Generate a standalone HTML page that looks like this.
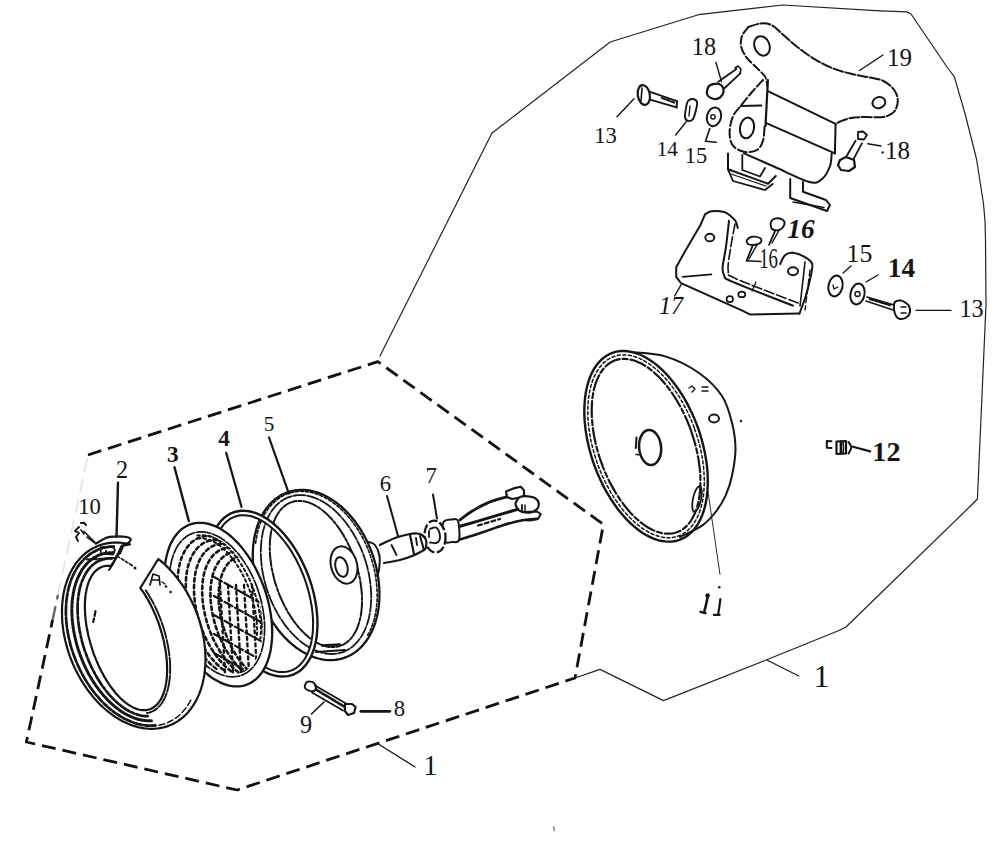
<!DOCTYPE html>
<html><head><meta charset="utf-8"><style>
html,body{margin:0;padding:0;background:#fff;overflow:hidden;width:1000px;height:846px;}
svg{display:block;font-family:"Liberation Serif",serif;}
</style></head><body>
<svg width="1000" height="846" viewBox="0 0 1000 846">
<rect width="1000" height="846" fill="#fff"/>
<path d="M575 678 L600 669.4 L663.5 700.6 L765.5 660.3 L839 630.5 L846 627 L972 504.5 L977.4 499 L986 305 L985.5 240 L985 221 L983.5 204 L976.5 159 L965 113.5 L954.3 76.6 L947 67 L911 14 L907 11.9 L880 10.8 L782.4 5 L698.4 14.7 L610.2 42 L492 133 L380 356" fill="none" stroke="#222" stroke-width="1.2" stroke-linecap="round" stroke-linejoin="round"/>
<path d="M88 455 L377.8 361.6 L603.4 524.4 L575 678 L237 790 L26.4 742 L52.6 620" fill="none" stroke="#111" stroke-width="2.8" stroke-linecap="butt" stroke-linejoin="round" stroke-dasharray="14 7"/>
<path d="M52.6 620 L57.9 595" fill="none" stroke="#666" stroke-width="2.4" stroke-linecap="butt" stroke-linejoin="round" stroke-dasharray="14 7"/>
<path d="M57.9 595 L88 455" fill="none" stroke="#dedede" stroke-width="1.4" stroke-linecap="butt" stroke-linejoin="round" stroke-dasharray="14 7"/>
<path d="M630 352 C636 352.8 654.5 353.1 666 356.6 C677.5 360.1 689.7 366.4 699 373 C708.3 379.6 716.5 387.7 722 396 C727.5 404.3 729.8 414 732 422.8 C734.2 431.6 735.5 440.2 735.5 449 C735.5 457.8 733.6 468 732 475.8 C730.4 483.6 728.3 489.6 725.6 495.6 C722.9 501.6 719.5 507 715.6 512 C711.7 517 708.3 521.2 702.4 525.4 C696.5 529.6 683.7 535.1 680 537" fill="none" stroke="#151515" stroke-width="2.0" stroke-linecap="round" stroke-linejoin="round"/>
<path d="M697.9 427.7 L699.6 432.6 L701.1 437.6 L702.5 442.6 L703.7 447.6 L704.8 452.6 L705.7 457.5 L706.5 462.5 L707.1 467.4 L707.5 472.2 L707.7 477 L707.8 481.6 L707.7 486.2 L707.4 490.7 L707 495.1 L706.4 499.3 L705.7 503.4 L704.7 507.3 L703.7 511 L702.4 514.6 L701 518 L699.5 521.2 L697.8 524.2 L695.9 526.9 L694 529.5 L691.8 531.8 L689.6 533.9 L687.3 535.8 L684.8 537.4 L682.2 538.7 L679.6 539.8 L676.8 540.7 L674 541.2 L671 541.6 L668.1 541.6 L665 541.4 L661.9 541 L658.8 540.3 L655.6 539.3 L652.4 538.1 L649.2 536.6 L645.9 534.9 L642.7 532.9 L639.5 530.7 L636.3 528.2 L633.1 525.6 L629.9 522.7 L626.8 519.6 L623.8 516.3 L620.8 512.8 L617.9 509.2 L615.1 505.3 L612.3 501.3 L609.7 497.2 L607.1 492.9 L604.6 488.5 L602.3 483.9 L600.1 479.3 L598 474.6 L596 469.8 L594.2 464.9 L592.5 460 L591 455 L589.6 450 L588.4 445 L587.3 440.1 L586.4 435.1 L585.6 430.1 L585.1 425.2 L584.6 420.4 L584.4 415.6 L584.3 411 L584.4 406.4 L584.7 401.9 L585.1 397.5 L585.7 393.3 L586.5 389.2 L587.4 385.3 L588.5 381.6 L589.7 378 L591.1 374.6 L592.7 371.4 L594.3 368.4 L596.2 365.7 L598.2 363.1 L600.3 360.8 L602.5 358.7 L604.8 356.9 L607.3 355.2 L609.9 353.9 L612.5 352.8 L615.3 351.9 L618.1 351.4 L621.1 351 L624.1 351 L627.1 351.2 L630.2 351.6 L633.4 352.3 L636.5 353.3 L639.7 354.5 L643 356 L646.2 357.8 L649.4 359.7 L652.6 361.9 L655.9 364.4 L659 367 L662.2 369.9 L665.3 373 L668.3 376.3 L671.3 379.8 L674.2 383.5 L677 387.3 L679.8 391.3 L682.5 395.4 L685 399.7 L687.5 404.1 L689.8 408.7 L692 413.3 L694.1 418 L696.1 422.9 L697.9 427.7" fill="none" stroke="#151515" stroke-width="2.4" stroke-linecap="round" stroke-linejoin="round"/>
<path d="M694.6 428.9 L696.2 433.6 L697.7 438.4 L699.1 443.2 L700.2 447.9 L701.3 452.7 L702.2 457.5 L702.9 462.2 L703.5 466.9 L703.9 471.5 L704.2 476.1 L704.3 480.6 L704.3 485 L704 489.3 L703.7 493.4 L703.1 497.5 L702.5 501.4 L701.6 505.1 L700.6 508.7 L699.5 512.1 L698.2 515.3 L696.8 518.4 L695.2 521.2 L693.5 523.9 L691.7 526.3 L689.7 528.5 L687.6 530.5 L685.4 532.2 L683.1 533.7 L680.7 535 L678.2 536 L675.6 536.8 L673 537.4 L670.2 537.7 L667.4 537.7 L664.6 537.5 L661.6 537 L658.7 536.3 L655.7 535.4 L652.7 534.2 L649.6 532.7 L646.6 531 L643.5 529.1 L640.5 527 L637.5 524.6 L634.5 522.1 L631.5 519.3 L628.6 516.3 L625.7 513.1 L622.8 509.8 L620.1 506.2 L617.4 502.6 L614.8 498.7 L612.2 494.7 L609.8 490.6 L607.5 486.3 L605.2 482 L603.1 477.5 L601.1 473 L599.2 468.4 L597.5 463.7 L595.9 459 L594.4 454.2 L593.1 449.5 L591.9 444.7 L590.8 439.9 L589.9 435.1 L589.2 430.4 L588.6 425.7 L588.2 421.1 L587.9 416.5 L587.8 412 L587.9 407.6 L588.1 403.4 L588.4 399.2 L589 395.2 L589.7 391.3 L590.5 387.5 L591.5 383.9 L592.6 380.5 L593.9 377.3 L595.4 374.2 L596.9 371.4 L598.6 368.8 L600.5 366.3 L602.4 364.1 L604.5 362.1 L606.7 360.4 L609 358.9 L611.4 357.6 L613.9 356.6 L616.5 355.8 L619.1 355.2 L621.9 354.9 L624.7 354.9 L627.6 355.1 L630.5 355.6 L633.4 356.3 L636.4 357.2 L639.4 358.4 L642.5 359.9 L645.5 361.6 L648.6 363.5 L651.6 365.6 L654.6 368 L657.7 370.5 L660.6 373.3 L663.6 376.3 L666.4 379.5 L669.3 382.8 L672 386.4 L674.7 390.1 L677.3 393.9 L679.9 397.9 L682.3 402 L684.6 406.3 L686.9 410.6 L689 415.1 L691 419.6 L692.9 424.2 L694.6 428.9" fill="none" stroke="#151515" stroke-width="1.5" stroke-linecap="round" stroke-linejoin="round" stroke-dasharray="3 2.5"/>
<path d="M690.9 430.2 L692.4 434.8 L693.8 439.3 L695.1 443.9 L696.3 448.5 L697.3 453 L698.2 457.6 L698.9 462.1 L699.5 466.6 L700 471 L700.3 475.4 L700.4 479.7 L700.4 483.9 L700.3 487.9 L700 491.9 L699.5 495.7 L698.9 499.5 L698.2 503 L697.3 506.4 L696.3 509.7 L695.1 512.7 L693.8 515.6 L692.4 518.3 L690.9 520.8 L689.2 523.1 L687.4 525.2 L685.5 527.1 L683.5 528.7 L681.4 530.1 L679.2 531.3 L676.9 532.3 L674.5 533 L672 533.5 L669.5 533.7 L666.9 533.7 L664.2 533.5 L661.5 533 L658.8 532.3 L656 531.4 L653.2 530.2 L650.3 528.8 L647.5 527.2 L644.7 525.3 L641.8 523.2 L639 520.9 L636.2 518.5 L633.4 515.8 L630.6 512.9 L627.9 509.8 L625.3 506.6 L622.7 503.2 L620.1 499.6 L617.7 495.9 L615.3 492.1 L613 488.1 L610.8 484.1 L608.6 479.9 L606.6 475.6 L604.7 471.3 L602.9 466.8 L601.3 462.4 L599.7 457.8 L598.3 453.3 L597 448.7 L595.8 444.1 L594.8 439.6 L593.9 435 L593.2 430.5 L592.6 426 L592.2 421.6 L591.9 417.2 L591.7 412.9 L591.7 408.8 L591.9 404.7 L592.1 400.7 L592.6 396.9 L593.2 393.2 L593.9 389.6 L594.8 386.2 L595.8 382.9 L597 379.9 L598.3 377 L599.7 374.3 L601.2 371.8 L602.9 369.5 L604.7 367.4 L606.6 365.5 L608.6 363.9 L610.7 362.5 L612.9 361.3 L615.2 360.3 L617.6 359.6 L620.1 359.1 L622.6 358.9 L625.2 358.9 L627.9 359.1 L630.6 359.6 L633.3 360.3 L636.1 361.2 L638.9 362.4 L641.8 363.8 L644.6 365.5 L647.5 367.3 L650.3 369.4 L653.1 371.7 L655.9 374.2 L658.7 376.8 L661.5 379.7 L664.2 382.8 L666.8 386 L669.4 389.4 L672 393 L674.4 396.7 L676.8 400.5 L679.1 404.5 L681.4 408.5 L683.5 412.7 L685.5 417 L687.4 421.3 L689.2 425.8 L690.9 430.2" fill="none" stroke="#151515" stroke-width="2.2" stroke-linecap="round" stroke-linejoin="round" stroke-dasharray="16 3 5 3"/>
<ellipse cx="650.1" cy="447.5" rx="11" ry="17.5" transform="rotate(-5 650.1 447.5)" fill="none" stroke="#151515" stroke-width="2.5"/>
<path d="M636.5 437.5 L635.8 448" fill="none" stroke="#151515" stroke-width="2.0" stroke-linecap="round" stroke-linejoin="round"/>
<path d="M636 454.5 L639 454.7" fill="none" stroke="#151515" stroke-width="1.6" stroke-linecap="round" stroke-linejoin="round"/>
<ellipse cx="714" cy="418.5" rx="5" ry="4" fill="none" stroke="#151515" stroke-width="2"/>
<ellipse cx="697" cy="499" rx="4" ry="13" transform="rotate(12 697 499)" fill="none" stroke="#151515" stroke-width="1.8"/>
<path d="M689 388 L692 386 L695 389 L692 392" fill="none" stroke="#151515" stroke-width="1.4" stroke-linecap="round" stroke-linejoin="round"/>
<path d="M702 387 L708 387" fill="none" stroke="#151515" stroke-width="1.4" stroke-linecap="round" stroke-linejoin="round"/>
<path d="M702 391 L708 391" fill="none" stroke="#151515" stroke-width="1.4" stroke-linecap="round" stroke-linejoin="round"/>
<circle cx="741" cy="421" r="1.2" fill="#151515"/>
<path d="M831.5 441.2 L826.8 441 L826.8 447.8 L831.5 448" fill="none" stroke="#151515" stroke-width="2.0" stroke-linecap="round" stroke-linejoin="round"/>
<path d="M836.5 441.5 L846 441 L846 453.5 L836.5 454Z" fill="none" stroke="#151515" stroke-width="2.2" stroke-linecap="round" stroke-linejoin="round"/>
<path d="M840.8 441.5 L840.8 453.8" fill="none" stroke="#151515" stroke-width="2.4" stroke-linecap="round" stroke-linejoin="round"/>
<path d="M843 442 L843.5 448 L843 453.5" fill="none" stroke="#151515" stroke-width="1.6" stroke-linecap="round" stroke-linejoin="round"/>
<path d="M848.5 442 C849 442.9 851.3 445.6 851.3 447.5 C851.3 449.4 849 452.5 848.5 453.5" fill="none" stroke="#151515" stroke-width="2.0" stroke-linecap="round" stroke-linejoin="round"/>
<path d="M748.4 27 C750.5 26.4 757.1 23.7 761 23.4 C764.9 23.1 768.2 23.4 771.8 25.2 C775.4 27 778.4 30.6 782.6 34.2 C786.8 37.8 791.6 42.6 797 46.8 C802.4 51 809 55.8 815 59.4 C821 63 827 66 833 68.4 C839 70.8 845 72.3 851 73.8 C857 75.3 863.6 76.2 869 77.4 C874.4 78.6 879.2 78.9 883.4 81 C887.6 83.1 891.8 86.7 894.2 90 C896.6 93.3 897.8 97.2 897.8 100.8 C897.8 104.4 896.6 108.9 894.2 111.6 C891.8 114.3 888.2 116.1 883.4 117 C878.6 117.9 870.8 116.8 865.4 117 C860 117.2 855.2 117.2 851 117.9 C846.8 118.7 842.8 120.5 840.2 121.5 C837.7 122.5 836.5 123.8 835.7 124.2" fill="none" stroke="#151515" stroke-width="2.0" stroke-linecap="round" stroke-linejoin="round" stroke-dasharray="10 2.5"/>
<path d="M748.4 27 C747.3 28.5 743.2 32.7 742 36 C740.8 39.3 740.4 43.2 741.2 46.8 C742 50.4 743.9 54 746.6 57.6 C749.3 61.2 754.2 65.1 757.4 68.4 C760.5 71.7 763.9 74.4 765.5 77.4 C767.1 80.4 767 84.9 767.3 86.4" fill="none" stroke="#151515" stroke-width="2.0" stroke-linecap="round" stroke-linejoin="round" stroke-dasharray="8 3"/>
<ellipse cx="762" cy="45.9" rx="7.5" ry="10" transform="rotate(-20 762 45.9)" fill="none" stroke="#151515" stroke-width="2"/>
<ellipse cx="878.9" cy="102.6" rx="6.5" ry="5.5" transform="rotate(-20 878.9 102.6)" fill="none" stroke="#151515" stroke-width="2"/>
<path d="M767.9 91.2 L835.6 123.9 L834.9 153.4" fill="none" stroke="#151515" stroke-width="2.0" stroke-linecap="round" stroke-linejoin="round"/>
<path d="M766.3 123.1 L834.9 153.4" fill="none" stroke="#151515" stroke-width="2.0" stroke-linecap="round" stroke-linejoin="round"/>
<path d="M767.9 80 L765.5 126" fill="none" stroke="#151515" stroke-width="2.2" stroke-linecap="round" stroke-linejoin="round"/>
<path d="M744 153.4 C749.2 155.7 764.1 162.2 775 167 C785.9 171.8 801.5 180 809.3 182 C817.1 184 818.5 181.7 822 179 C825.5 176.3 828.4 170.3 830 166 C831.6 161.7 831.4 155.5 831.7 153.4" fill="none" stroke="#151515" stroke-width="2.0" stroke-linecap="round" stroke-linejoin="round"/>
<path d="M763 80 C761.2 82 755.7 87.7 752 92 C748.3 96.3 743.9 101.9 740.7 106 C737.5 110.1 734.6 112.3 732.8 116.7 C730.9 121.1 729.6 127.8 729.6 132.6 C729.6 137.4 730.4 142.2 732.8 145.4 C735.2 148.6 740 151 744 151.8 C748 152.6 753.5 152.1 756.7 150.2 C759.9 148.3 761.7 144.8 763 140.6 C764.3 136.3 764.4 127.3 764.7 124.7" fill="none" stroke="#151515" stroke-width="2.0" stroke-linecap="round" stroke-linejoin="round" stroke-dasharray="9 3"/>
<path d="M740.7 106 L761.5 105.5" fill="none" stroke="#151515" stroke-width="1.8" stroke-linecap="round" stroke-linejoin="round"/>
<ellipse cx="747" cy="127.9" rx="7" ry="10.4" transform="rotate(10 747 127.9)" fill="none" stroke="#151515" stroke-width="2"/>
<path d="M728 153.4 L728 169.3 L768 183.7 L775.8 176" fill="none" stroke="#151515" stroke-width="2.0" stroke-linecap="round" stroke-linejoin="round"/>
<path d="M742.3 155 L742.3 170 L760 176.5 L765 168" fill="none" stroke="#151515" stroke-width="1.8" stroke-linecap="round" stroke-linejoin="round"/>
<path d="M728 169.3 L733 181 L765 190 L772.6 184" fill="none" stroke="#151515" stroke-width="1.8" stroke-linecap="round" stroke-linejoin="round"/>
<path d="M731 174 L766 186" fill="none" stroke="#151515" stroke-width="1.3" stroke-linecap="round" stroke-linejoin="round"/>
<path d="M790.2 178.9 L790.2 198 L827 211 L830 205 L826 200 L803 191.7 L803 182" fill="none" stroke="#151515" stroke-width="2.0" stroke-linecap="round" stroke-linejoin="round"/>
<path d="M793 202 L824 207.5" fill="none" stroke="#151515" stroke-width="1.3" stroke-linecap="round" stroke-linejoin="round"/>
<path d="M855.6 140.7 L846.6 156" fill="none" stroke="#151515" stroke-width="1.8" stroke-linecap="round" stroke-linejoin="round"/>
<path d="M861.9 143.4 L853.8 158.7" fill="none" stroke="#151515" stroke-width="1.8" stroke-linecap="round" stroke-linejoin="round"/>
<path d="M858 132 L863 131.5 L867 135 L864 139.5 L858 139Z" fill="none" stroke="#151515" stroke-width="1.8" stroke-linecap="round" stroke-linejoin="round"/>
<path d="M840 160 L846 157 L854 160 L855 167 L849 171 L841 170 L838 165Z" fill="none" stroke="#151515" stroke-width="2.2" stroke-linecap="round" stroke-linejoin="round"/>
<circle cx="882.6" cy="152.4" r="1.2" fill="#151515"/>
<path d="M650 91.8 L677 101.2" fill="none" stroke="#151515" stroke-width="1.9" stroke-linecap="round" stroke-linejoin="round"/>
<path d="M650 99.6 L676.6 107.4" fill="none" stroke="#151515" stroke-width="1.9" stroke-linecap="round" stroke-linejoin="round"/>
<path d="M677 101.2 L676.6 107.4" fill="none" stroke="#151515" stroke-width="2.0" stroke-linecap="round" stroke-linejoin="round"/>
<path d="M662 98 L674 102.5" fill="none" stroke="#151515" stroke-width="2.2" stroke-linecap="round" stroke-linejoin="round" stroke-dasharray="3 2"/>
<ellipse cx="643.8" cy="95" rx="6" ry="10" transform="rotate(-10 643.8 95)" fill="#fff" stroke="#151515" stroke-width="2.2"/>
<path d="M642 88 L641 101" fill="none" stroke="#151515" stroke-width="1.6" stroke-linecap="round" stroke-linejoin="round"/>
<path d="M688 101 C689.2 99.5 691.5 98.8 693 99 C694.5 99.2 696.5 100.2 697 102 C697.5 103.8 696.7 107.2 696 110 C695.3 112.8 694.3 117.2 693 119 C691.7 120.8 689.3 121.3 688 121 C686.7 120.7 685.3 119.2 685 117 C684.7 114.8 685.5 110.7 686 108 C686.5 105.3 686.8 102.5 688 101Z" fill="none" stroke="#151515" stroke-width="1.9" stroke-linecap="round" stroke-linejoin="round"/>
<path d="M690 106 L689 116" fill="none" stroke="#151515" stroke-width="1.4" stroke-linecap="round" stroke-linejoin="round"/>
<ellipse cx="714" cy="116.8" rx="7" ry="9.5" transform="rotate(15 714 116.8)" fill="none" stroke="#151515" stroke-width="2"/>
<circle cx="713" cy="116.8" r="2.2" fill="none" stroke="#151515" stroke-width="1.4"/>
<path d="M709.8 128.5 L705.5 141.3 L716.2 142.3" fill="none" stroke="#151515" stroke-width="1.6" stroke-linecap="round" stroke-linejoin="round"/>
<path d="M718.3 81.7 L736.4 68.9" fill="none" stroke="#151515" stroke-width="1.8" stroke-linecap="round" stroke-linejoin="round"/>
<path d="M724.7 88 L740.6 73.2" fill="none" stroke="#151515" stroke-width="1.8" stroke-linecap="round" stroke-linejoin="round"/>
<path d="M735 68 L738 66 L741 69 L740 73" fill="none" stroke="#151515" stroke-width="1.6" stroke-linecap="round" stroke-linejoin="round"/>
<path d="M709 86 C710.3 84.3 713 84 715 83.8 C717 83.6 719.6 83.8 721 85 C722.4 86.2 723.8 88.9 723.6 91 C723.4 93.1 721.8 96.2 720 97.5 C718.2 98.8 715.2 99.3 713 98.7 C710.8 98.1 707.7 96.1 707 94 C706.3 91.9 707.7 87.7 709 86Z" fill="none" stroke="#151515" stroke-width="2.2" stroke-linecap="round" stroke-linejoin="round"/>
<path d="M705 214.4 C706.1 213.9 708.2 211.6 711.4 211.2 C714.6 210.8 721 211.2 724.2 212 C727.4 212.8 728.7 214.5 730.6 216 C732.5 217.5 734.2 218.8 735.4 220.8 C736.6 222.8 737.4 226.8 737.8 228" fill="none" stroke="#151515" stroke-width="2.0" stroke-linecap="round" stroke-linejoin="round"/>
<path d="M705 214.4 L700.2 225.6 L684.2 252.8 L676.2 267.2 L676.2 276.8 L681 283.2 L741.8 310.4 L749.8 314.4 L799.4 313.6" fill="none" stroke="#151515" stroke-width="2.0" stroke-linecap="round" stroke-linejoin="round"/>
<path d="M799.4 313.6 C800.5 310.7 803.9 302.1 805.8 296 C807.7 289.9 809.5 282.1 810.6 276.8 C811.7 271.5 813 267.2 812.2 264 C811.4 260.8 809 259.5 805.8 257.6 C802.6 255.7 796.5 253.2 793 252.8 C789.5 252.4 787.1 253.3 785 255.2 C782.9 257.1 781 262.5 780.2 264" fill="none" stroke="#151515" stroke-width="2.0" stroke-linecap="round" stroke-linejoin="round"/>
<path d="M729 220.8 C728.5 225.3 726.9 240.3 725.8 248 C724.7 255.7 722.9 262.7 722.6 267.2 C722.3 271.7 722.6 272.8 724.2 275.2 C725.8 277.6 720.7 276.5 732.2 281.6 C743.7 286.7 782.9 301.6 793 305.6" fill="none" stroke="#151515" stroke-width="2.0" stroke-linecap="round" stroke-linejoin="round"/>
<path d="M735 224 C734.3 228 731.7 240.3 730.6 248 C729.5 255.7 727.4 265.3 728.2 270.4 C729 275.5 723.8 273 735.4 278.4 C747 283.8 787.6 298.9 798 303" fill="none" stroke="#151515" stroke-width="1.6" stroke-linecap="round" stroke-linejoin="round" stroke-dasharray="10 3"/>
<path d="M805 262 L800 306" fill="none" stroke="#151515" stroke-width="1.6" stroke-linecap="round" stroke-linejoin="round"/>
<path d="M810 270 L805 310" fill="none" stroke="#151515" stroke-width="1.4" stroke-linecap="round" stroke-linejoin="round" stroke-dasharray="6 3"/>
<path d="M682.6 276.8 L711.4 274.4" fill="none" stroke="#151515" stroke-width="1.8" stroke-linecap="round" stroke-linejoin="round"/>
<path d="M752 291 L756 282" fill="none" stroke="#151515" stroke-width="1.3" stroke-linecap="round" stroke-linejoin="round"/>
<ellipse cx="709.8" cy="237.6" rx="4.5" ry="3.8" fill="none" stroke="#151515" stroke-width="1.9"/>
<ellipse cx="793" cy="271.2" rx="5" ry="4" fill="none" stroke="#151515" stroke-width="1.9"/>
<ellipse cx="729.8" cy="299.2" rx="3.2" ry="3" fill="none" stroke="#151515" stroke-width="1.7"/>
<ellipse cx="741.8" cy="294.4" rx="3.5" ry="2.8" fill="none" stroke="#151515" stroke-width="1.7"/>
<path d="M681 284.8 L674.6 296" fill="none" stroke="#151515" stroke-width="1.4" stroke-linecap="round" stroke-linejoin="round"/>
<path d="M771 222 C771.7 220.2 774 218.7 776 218.4 C778 218.1 781.6 218.9 783 220 C784.4 221.1 784.9 223.3 784.2 225 C783.5 226.7 781 229.3 779 230 C777 230.7 773.3 230.3 772 229 C770.7 227.7 770.3 223.8 771 222Z" fill="none" stroke="#151515" stroke-width="1.9" stroke-linecap="round" stroke-linejoin="round"/>
<path d="M775.4 230.4 L769 244.8" fill="none" stroke="#151515" stroke-width="1.8" stroke-linecap="round" stroke-linejoin="round"/>
<path d="M779 230.4 L772 243" fill="none" stroke="#151515" stroke-width="1.4" stroke-linecap="round" stroke-linejoin="round"/>
<path d="M747 240 C747.7 238.8 749.8 237.1 752 236.8 C754.2 236.5 758.5 237.1 760 238 C761.5 238.9 761.8 240.9 761 242 C760.2 243.1 757.2 244.5 755 244.8 C752.8 245.1 749.3 244.8 748 244 C746.7 243.2 746.3 241.2 747 240Z" fill="none" stroke="#151515" stroke-width="1.9" stroke-linecap="round" stroke-linejoin="round"/>
<path d="M753 244.8 L746.6 260.8" fill="none" stroke="#151515" stroke-width="1.9" stroke-linecap="round" stroke-linejoin="round"/>
<path d="M757 244.8 L749 259" fill="none" stroke="#151515" stroke-width="1.4" stroke-linecap="round" stroke-linejoin="round"/>
<path d="M746.6 260.8 L761 261.6" fill="none" stroke="#151515" stroke-width="1.5" stroke-linecap="round" stroke-linejoin="round"/>
<ellipse cx="835.5" cy="286" rx="7" ry="10.5" transform="rotate(12 835.5 286)" fill="none" stroke="#151515" stroke-width="2"/>
<path d="M833 285 L834 289 L838 287" fill="none" stroke="#151515" stroke-width="1.3" stroke-linecap="round" stroke-linejoin="round"/>
<ellipse cx="857.5" cy="294" rx="7" ry="10.5" transform="rotate(12 857.5 294)" fill="none" stroke="#151515" stroke-width="2"/>
<circle cx="857.5" cy="294" r="2.5" fill="none" stroke="#151515" stroke-width="1.4"/>
<path d="M867 297 L894 305" fill="none" stroke="#151515" stroke-width="1.6" stroke-linecap="round" stroke-linejoin="round"/>
<path d="M866 301 L893 310" fill="none" stroke="#151515" stroke-width="1.6" stroke-linecap="round" stroke-linejoin="round"/>
<path d="M870 299 L890 305" fill="none" stroke="#151515" stroke-width="2.4" stroke-linecap="round" stroke-linejoin="round" stroke-dasharray="3 2"/>
<path d="M895 302 C896.2 300.6 899.2 300.3 901 300.5 C902.8 300.7 904.7 302.1 906 303 C907.3 303.9 908.3 304.5 909 306 C909.7 307.5 910.3 310.2 910 312 C909.7 313.8 908.7 315.8 907 317 C905.3 318.2 901.8 319.2 900 319 C898.2 318.8 897 317.7 896 316 C895 314.3 894.2 311.3 894 309 C893.8 306.7 893.8 303.4 895 302Z" fill="none" stroke="#151515" stroke-width="2.0" stroke-linecap="round" stroke-linejoin="round"/>
<path d="M901 307 L906 307" fill="none" stroke="#151515" stroke-width="1.4" stroke-linecap="round" stroke-linejoin="round"/>
<path d="M901 313 L906 313" fill="none" stroke="#151515" stroke-width="1.4" stroke-linecap="round" stroke-linejoin="round"/>
<path d="M460 519.9 C461.9 518.5 467 514.3 471.5 511.5 C476 508.7 481.9 505.4 487.2 503.1 C492.4 500.8 499.2 499 503 497.9 C506.8 496.8 508.8 496.7 510 496.5" fill="none" stroke="#151515" stroke-width="2.8" stroke-linecap="round" stroke-linejoin="round"/>
<path d="M460 526.2 C463.7 525.2 474.8 522 482 519.9 C489.2 517.8 497.1 515.4 503 513.6 C508.9 511.9 515.2 510.1 517.7 509.4" fill="none" stroke="#151515" stroke-width="3.0" stroke-linecap="round" stroke-linejoin="round"/>
<path d="M458.9 539.8 C462.8 538.6 474.6 534.9 482 532.5 C489.4 530.1 496 527.3 503 525.2 C510 523.1 518.4 521 524 520 C529.6 519 534.5 519.1 536.6 518.9" fill="none" stroke="#151515" stroke-width="2.6" stroke-linecap="round" stroke-linejoin="round"/>
<path d="M478 525.5 L500 519" fill="none" stroke="#151515" stroke-width="2.2" stroke-linecap="round" stroke-linejoin="round" stroke-dasharray="4 3"/>
<path d="M506 491.5 L513.5 488.4 L520.8 486.8 L524 490.5 L524 496.8 L512 499 L507 497Z" fill="#fff" stroke="#151515" stroke-width="2.2" stroke-linecap="round" stroke-linejoin="round"/>
<path d="M516 502 C516.7 500.5 518 497.9 520 497 C522 496.1 525.5 496.1 528 496.3 C530.5 496.5 533.2 496.9 535 498 C536.8 499.1 538.4 501.2 538.7 503 C539 504.8 538.5 507.4 537 509 C535.5 510.6 532.8 512.3 530 512.6 C527.2 512.9 522.3 512.1 520 511 C517.7 509.9 516.7 507.5 516 506 C515.3 504.5 515.3 503.5 516 502Z" fill="#fff" stroke="#151515" stroke-width="2.2" stroke-linecap="round" stroke-linejoin="round"/>
<path d="M522 512 L537 511.5 L540.8 514 L538 519 L530 520.5 L522 520" fill="none" stroke="#151515" stroke-width="2.0" stroke-linecap="round" stroke-linejoin="round"/>
<path d="M522 505 L522 511" fill="none" stroke="#151515" stroke-width="1.8" stroke-linecap="round" stroke-linejoin="round"/>
<path d="M525 505 L525 511" fill="none" stroke="#151515" stroke-width="1.5" stroke-linecap="round" stroke-linejoin="round"/>
<path d="M443 523 C444.3 519.4 449.5 519.8 452 519.5 C454.5 519.2 456.8 517.6 458 521 C459.2 524.4 460 536.5 459 540 C458 543.5 454.5 541.8 452 542 C449.5 542.2 445.5 544.2 444 541 C442.5 537.8 441.7 526.6 443 523Z" fill="#fff" stroke="#151515" stroke-width="2.0" stroke-linecap="round" stroke-linejoin="round"/>
<ellipse cx="435" cy="536.5" rx="10.5" ry="16" transform="rotate(-5 435 536.5)" fill="#fff" stroke="#151515" stroke-width="2.3" stroke-dasharray="9 2.5"/>
<path d="M430 529 C431 528.8 434.4 526.8 436 527.5 C437.6 528.2 438.9 530.9 439.5 533 C440.1 535.1 440.1 538.3 439.5 540 C438.9 541.7 437.6 542.6 436 543 C434.4 543.4 431 542.6 430 542.5" fill="none" stroke="#151515" stroke-width="1.9" stroke-linecap="round" stroke-linejoin="round"/>
<path d="M429 531 L429 537" fill="none" stroke="#151515" stroke-width="1.8" stroke-linecap="round" stroke-linejoin="round"/>
<path d="M380 545 C381.8 540.8 390 539.8 395 538 C400 536.2 406.3 534.8 410 534 C413.7 533.2 415 533.3 417 533.5 C419 533.7 420.5 533.9 422 535 C423.5 536.1 425.3 538 426 540 C426.7 542 426.3 545.3 426 547 C425.7 548.7 426.3 548.5 424 550 C421.7 551.5 416 554.3 412 556 C408 557.7 404.7 558.8 400 560 C395.3 561.2 387.3 565.5 384 563 C380.7 560.5 378.2 549.2 380 545Z" fill="#fff" stroke="#fff" stroke-width="0.1" stroke-linecap="round" stroke-linejoin="round"/>
<path d="M380 545 C382.5 543.8 390 539.8 395 538 C400 536.2 406.3 534.8 410 534 C413.7 533.2 415 533.3 417 533.5 C419 533.7 420.5 533.9 422 535 C423.5 536.1 425.3 538 426 540 C426.7 542 426.3 545.3 426 547 C425.7 548.7 426.3 548.5 424 550 C421.7 551.5 416 554.3 412 556 C408 557.7 404.7 558.8 400 560 C395.3 561.2 386.7 562.5 384 563" fill="none" stroke="#151515" stroke-width="2.2" stroke-linecap="round" stroke-linejoin="round"/>
<path d="M391.5 545 L396.5 555" fill="none" stroke="#151515" stroke-width="1.8" stroke-linecap="round" stroke-linejoin="round"/>
<path d="M410 535 L414 554" fill="none" stroke="#151515" stroke-width="2.2" stroke-linecap="round" stroke-linejoin="round"/>
<path d="M416 538 L417 545" fill="none" stroke="#151515" stroke-width="1.8" stroke-linecap="round" stroke-linejoin="round"/>
<path d="M420 536 L424 550" fill="none" stroke="#151515" stroke-width="2.0" stroke-linecap="round" stroke-linejoin="round"/>
<path d="M373 555.9 L374.3 560.2 L375.6 564.6 L376.6 569.1 L377.5 573.5 L378.3 578 L378.8 582.4 L379.2 586.9 L379.4 591.2 L379.4 595.6 L379.3 599.9 L379 604.1 L378.5 608.3 L377.9 612.3 L377 616.3 L376 620.1 L374.9 623.8 L373.6 627.4 L372.1 630.8 L370.5 634.1 L368.7 637.3 L366.8 640.2 L364.7 643 L362.5 645.6 L360.2 648 L357.8 650.2 L355.2 652.1 L352.6 653.9 L349.8 655.5 L346.9 656.8 L344 657.9 L341 658.8 L337.9 659.5 L334.8 659.9 L331.6 660.1 L328.3 660.1 L325.1 659.8 L321.8 659.3 L318.5 658.5 L315.2 657.6 L311.8 656.4 L308.5 655 L305.3 653.3 L302 651.5 L298.8 649.4 L295.6 647.2 L292.5 644.7 L289.5 642.1 L286.5 639.2 L283.6 636.2 L280.8 633 L278.1 629.7 L275.5 626.2 L273 622.6 L270.6 618.8 L268.4 614.9 L266.3 611 L264.3 606.9 L262.5 602.7 L260.8 598.5 L259.2 594.1 L257.9 589.8 L256.6 585.4 L255.6 580.9 L254.7 576.5 L253.9 572 L253.4 567.6 L253 563.1 L252.8 558.8 L252.8 554.4 L252.9 550.1 L253.2 545.9 L253.7 541.7 L254.3 537.7 L255.2 533.7 L256.2 529.9 L257.3 526.2 L258.6 522.6 L260.1 519.2 L261.7 515.9 L263.5 512.7 L265.4 509.8 L267.5 507 L269.7 504.4 L272 502 L274.4 499.8 L277 497.9 L279.6 496.1 L282.4 494.5 L285.3 493.2 L288.2 492.1 L291.2 491.2 L294.3 490.5 L297.4 490.1 L300.6 489.9 L303.9 489.9 L307.1 490.2 L310.4 490.7 L313.7 491.5 L317 492.4 L320.4 493.6 L323.7 495 L326.9 496.7 L330.2 498.5 L333.4 500.6 L336.6 502.8 L339.7 505.3 L342.7 507.9 L345.7 510.8 L348.6 513.8 L351.4 517 L354.1 520.3 L356.7 523.8 L359.2 527.4 L361.6 531.2 L363.8 535.1 L365.9 539 L367.9 543.1 L369.7 547.3 L371.4 551.5 L373 555.9" fill="#fff" stroke="#151515" stroke-width="2.3" stroke-linecap="round" stroke-linejoin="round"/>
<path d="M255.6 543.2 L256.2 539.1 L256.9 535.2 L257.8 531.4 L258.8 527.7 L260 524.2 L261.4 520.7 L262.9 517.5 L264.5 514.4 L266.3 511.4 L268.2 508.6 L270.3 506.1 L272.5 503.7 L274.8 501.5 L277.2 499.5 L279.8 497.7 L282.4 496.1 L285.1 494.7 L287.9 493.6 L290.8 492.7 L293.8 492 L296.8 491.6 L299.9 491.3 L303 491.4 L306.2 491.6 L309.4 492.1 L312.6 492.8 L315.8 493.7 L319 494.9 L322.2 496.2 L325.4 497.8 L328.5 499.6 L331.7 501.6 L334.7 503.9 L337.8 506.3 L340.8 508.9 L343.7 511.7 L346.5 514.6 L349.2 517.7 L351.9 521 L354.4 524.5 L356.9 528 L359.2 531.7 L361.4 535.6 L363.5 539.5 L365.5 543.5 L367.3 547.6 L369 551.8 L370.5 556.1 L371.9 560.4 L373.1 564.7 L374.2 569.1 L375.1 573.5 L375.8 577.9 L376.4 582.3 L376.8 586.7 L377.1 591 L377.2 595.3 L377.1 599.5 L376.8 603.7 L376.4 607.8 L375.8 611.8 L375 615.6 L374.1 619.4 L373 623.1 L371.8 626.6 L370.4 630 L368.8 633.2 L367.1 636.3" fill="none" stroke="#151515" stroke-width="1.6" stroke-linecap="round" stroke-linejoin="round" stroke-dasharray="3 2"/>
<path d="M364.6 558.2 L365.9 562.3 L367.1 566.4 L368.1 570.5 L369 574.7 L369.7 578.9 L370.3 583 L370.7 587.1 L371 591.2 L371.2 595.3 L371.2 599.3 L371 603.2 L370.7 607 L370.2 610.8 L369.6 614.4 L368.9 618 L368 621.4 L366.9 624.7 L365.7 627.8 L364.4 630.8 L363 633.7 L361.4 636.4 L359.7 638.9 L357.8 641.3 L355.9 643.4 L353.9 645.4 L351.7 647.2 L349.5 648.8 L347.1 650.2 L344.7 651.3 L342.2 652.3 L339.6 653 L337 653.6 L334.3 653.9 L331.5 654 L328.7 653.9 L325.9 653.5 L323 653 L320.2 652.2 L317.3 651.2 L314.4 650 L311.5 648.7 L308.6 647.1 L305.8 645.3 L302.9 643.3 L300.2 641.1 L297.4 638.7 L294.7 636.2 L292.1 633.5 L289.5 630.6 L287 627.6 L284.6 624.4 L282.3 621.1 L280 617.7 L277.9 614.1 L275.9 610.4 L273.9 606.7 L272.1 602.8 L270.4 598.9 L268.9 594.9 L267.4 590.9 L266.1 586.8 L265 582.7 L263.9 578.5 L263 574.4 L262.3 570.2 L261.7 566 L261.3 561.9 L261 557.8 L260.8 553.8 L260.8 549.8 L261 545.9 L261.3 542 L261.8 538.3 L262.4 534.6 L263.1 531.1 L264.1 527.7 L265.1 524.4 L266.3 521.2 L267.6 518.2 L269.1 515.4 L270.6 512.7 L272.3 510.1 L274.2 507.8 L276.1 505.6 L278.2 503.6 L280.3 501.9 L282.6 500.3 L284.9 498.9 L287.3 497.7 L289.8 496.8 L292.4 496 L295.1 495.5 L297.8 495.2 L300.5 495.1 L303.3 495.2 L306.1 495.5 L309 496.1 L311.9 496.8 L314.7 497.8 L317.6 499 L320.5 500.4 L323.4 502 L326.2 503.8 L329.1 505.8 L331.9 508 L334.6 510.3 L337.3 512.9 L339.9 515.6 L342.5 518.5 L345 521.5 L347.4 524.7 L349.7 528 L352 531.4 L354.1 535 L356.2 538.6 L358.1 542.4 L359.9 546.2 L361.6 550.1 L363.2 554.1 L364.6 558.2" fill="none" stroke="#151515" stroke-width="1.8" stroke-linecap="round" stroke-linejoin="round" stroke-dasharray="12 2"/>
<path d="M355.1 560.8 L356.4 564.6 L357.5 568.4 L358.4 572.2 L359.3 576 L360.1 579.9 L360.7 583.7 L361.2 587.5 L361.6 591.2 L361.9 594.9 L362 598.5 L362 602.1 L361.9 605.6 L361.6 609 L361.3 612.3 L360.8 615.5 L360.1 618.6 L359.4 621.6 L358.5 624.4 L357.6 627.1 L356.5 629.7 L355.3 632.1 L354 634.3 L352.6 636.4 L351 638.3 L349.4 640.1 L347.7 641.6 L345.9 643 L344.1 644.2 L342.1 645.1 L340.1 645.9 L338 646.5 L335.9 646.9 L333.7 647.1 L331.4 647.1 L329.1 646.9 L326.8 646.5 L324.4 645.9 L322.1 645.1 L319.7 644.1 L317.2 642.9 L314.8 641.5 L312.4 640 L310 638.2 L307.6 636.3 L305.3 634.2 L302.9 631.9 L300.6 629.5 L298.4 627 L296.2 624.3 L294 621.4 L291.9 618.4 L289.9 615.3 L287.9 612.1 L286.1 608.8 L284.3 605.4 L282.6 601.9 L280.9 598.3 L279.4 594.7 L278 591 L276.7 587.2 L275.4 583.4 L274.3 579.6 L273.4 575.8 L272.5 572 L271.7 568.1 L271.1 564.3 L270.6 560.5 L270.2 556.8 L269.9 553.1 L269.8 549.5 L269.8 545.9 L269.9 542.4 L270.2 539 L270.5 535.7 L271 532.5 L271.7 529.4 L272.4 526.4 L273.3 523.6 L274.2 520.9 L275.3 518.3 L276.5 515.9 L277.8 513.7 L279.2 511.6 L280.8 509.7 L282.4 507.9 L284.1 506.4 L285.9 505 L287.7 503.8 L289.7 502.9 L291.7 502.1 L293.8 501.5 L295.9 501.1 L298.1 500.9 L300.4 500.9 L302.7 501.1 L305 501.5 L307.4 502.1 L309.7 502.9 L312.1 503.9 L314.6 505.1 L317 506.5 L319.4 508 L321.8 509.8 L324.2 511.7 L326.5 513.8 L328.9 516.1 L331.2 518.5 L333.4 521 L335.6 523.7 L337.8 526.6 L339.9 529.6 L341.9 532.7 L343.9 535.9 L345.7 539.2 L347.5 542.6 L349.2 546.1 L350.9 549.7 L352.4 553.3 L353.8 557 L355.1 560.8" fill="none" stroke="#151515" stroke-width="2.0" stroke-linecap="round" stroke-linejoin="round" stroke-dasharray="14 2 3 2"/>
<path d="M369 542 C370 542.5 373.2 542.7 375 545 C376.8 547.3 378.8 551.8 379.5 556 C380.2 560.2 379.4 566.7 379 570 C378.6 573.3 377.3 575 377 576" fill="none" stroke="#151515" stroke-width="2.0" stroke-linecap="round" stroke-linejoin="round"/>
<ellipse cx="344" cy="565" rx="13" ry="19" transform="rotate(-15 344 565)" fill="#fff" stroke="#151515" stroke-width="2"/>
<ellipse cx="341.5" cy="567" rx="6" ry="10" transform="rotate(-15 341.5 567)" fill="none" stroke="#151515" stroke-width="2"/>
<path d="M322 645.5 L340 644.5" fill="none" stroke="#151515" stroke-width="2.4" stroke-linecap="round" stroke-linejoin="round"/>
<path d="M316 652 L345 650" fill="none" stroke="#151515" stroke-width="2.0" stroke-linecap="round" stroke-linejoin="round"/>
<path d="M306.6 577.7 L308 581.8 L309.4 586 L310.6 590.2 L311.6 594.4 L312.6 598.7 L313.4 602.9 L314 607.1 L314.6 611.2 L314.9 615.3 L315.2 619.3 L315.3 623.3 L315.2 627.2 L315 631 L314.7 634.7 L314.2 638.2 L313.6 641.7 L312.8 645 L311.9 648.2 L310.9 651.2 L309.7 654.1 L308.4 656.8 L307 659.4 L305.5 661.7 L303.8 663.9 L302 665.9 L300.2 667.7 L298.2 669.2 L296.1 670.6 L293.9 671.8 L291.7 672.7 L289.4 673.4 L287 673.9 L284.5 674.2 L282 674.3 L279.4 674.1 L276.8 673.8 L274.1 673.2 L271.4 672.4 L268.7 671.3 L265.9 670.1 L263.2 668.6 L260.5 667 L257.7 665.1 L255 663.1 L252.3 660.8 L249.6 658.4 L247 655.8 L244.4 653 L241.8 650.1 L239.4 647 L236.9 643.8 L234.6 640.4 L232.3 636.9 L230.1 633.3 L228 629.5 L226 625.7 L224.1 621.8 L222.3 617.8 L220.6 613.7 L219.1 609.6 L217.6 605.5 L216.3 601.3 L215.1 597 L214 592.8 L213.1 588.6 L212.3 584.4 L211.6 580.2 L211.1 576.1 L210.7 572 L210.5 567.9 L210.4 564 L210.5 560.1 L210.7 556.3 L211 552.6 L211.5 549 L212.1 545.6 L212.9 542.2 L213.8 539.1 L214.8 536 L216 533.2 L217.2 530.4 L218.7 527.9 L220.2 525.5 L221.9 523.4 L223.6 521.4 L225.5 519.6 L227.5 518 L229.6 516.7 L231.7 515.5 L234 514.6 L236.3 513.8 L238.7 513.3 L241.2 513 L243.7 513 L246.3 513.1 L248.9 513.5 L251.6 514.1 L254.3 514.9 L257 515.9 L259.7 517.2 L262.5 518.6 L265.2 520.3 L267.9 522.1 L270.7 524.2 L273.4 526.4 L276 528.9 L278.7 531.5 L281.3 534.2 L283.8 537.2 L286.3 540.3 L288.7 543.5 L291.1 546.9 L293.3 550.4 L295.5 554 L297.6 557.7 L299.6 561.6 L301.5 565.5 L303.3 569.5 L305 573.5 L306.6 577.7" fill="none" stroke="#fff" stroke-width="4.5" stroke-linecap="round" stroke-linejoin="round"/>
<path d="M308.7 576.9 L310.2 581.2 L311.6 585.5 L312.8 589.8 L313.9 594.1 L314.8 598.5 L315.6 602.8 L316.3 607.1 L316.8 611.4 L317.2 615.6 L317.4 619.7 L317.5 623.8 L317.4 627.8 L317.1 631.7 L316.8 635.5 L316.2 639.2 L315.6 642.8 L314.7 646.2 L313.8 649.5 L312.7 652.6 L311.4 655.6 L310.1 658.4 L308.6 661 L306.9 663.4 L305.2 665.7 L303.3 667.7 L301.4 669.6 L299.3 671.2 L297.1 672.6 L294.8 673.8 L292.5 674.8 L290 675.6 L287.5 676.1 L284.9 676.4 L282.3 676.5 L279.6 676.4 L276.8 676 L274.1 675.4 L271.2 674.6 L268.4 673.6 L265.6 672.3 L262.7 670.8 L259.8 669.2 L257 667.3 L254.2 665.2 L251.3 662.9 L248.6 660.4 L245.8 657.7 L243.1 654.9 L240.5 651.9 L237.9 648.7 L235.4 645.4 L233 642 L230.6 638.4 L228.4 634.7 L226.2 630.8 L224.1 626.9 L222.2 622.9 L220.3 618.8 L218.6 614.6 L217 610.4 L215.5 606.1 L214.1 601.8 L212.9 597.5 L211.8 593.1 L210.8 588.8 L210 584.5 L209.4 580.2 L208.9 575.9 L208.5 571.7 L208.3 567.6 L208.2 563.5 L208.3 559.5 L208.5 555.6 L208.9 551.8 L209.4 548.1 L210.1 544.5 L210.9 541.1 L211.9 537.8 L213 534.7 L214.2 531.7 L215.6 528.9 L217.1 526.3 L218.7 523.9 L220.5 521.6 L222.3 519.6 L224.3 517.7 L226.4 516.1 L228.6 514.7 L230.8 513.4 L233.2 512.5 L235.6 511.7 L238.2 511.2 L240.7 510.8 L243.4 510.8 L246.1 510.9 L248.8 511.3 L251.6 511.8 L254.4 512.7 L257.3 513.7 L260.1 515 L263 516.4 L265.8 518.1 L268.7 520 L271.5 522.1 L274.3 524.4 L277.1 526.9 L279.8 529.5 L282.5 532.4 L285.2 535.4 L287.7 538.5 L290.3 541.9 L292.7 545.3 L295 548.9 L297.3 552.6 L299.5 556.4 L301.5 560.4 L303.5 564.4 L305.4 568.5 L307.1 572.7 L308.7 576.9" fill="none" stroke="#151515" stroke-width="2.4" stroke-linecap="round" stroke-linejoin="round"/>
<path d="M304.5 578.4 L305.9 582.5 L307.2 586.6 L308.4 590.7 L309.4 594.8 L310.3 598.9 L311.1 603 L311.8 607 L312.3 611 L312.7 615 L313 618.9 L313.1 622.8 L313 626.6 L312.9 630.2 L312.6 633.8 L312.1 637.3 L311.6 640.7 L310.9 643.9 L310 647 L309.1 649.9 L308 652.7 L306.8 655.3 L305.4 657.8 L304 660 L302.4 662.1 L300.7 664 L299 665.7 L297.1 667.3 L295.1 668.6 L293.1 669.7 L290.9 670.6 L288.7 671.3 L286.4 671.8 L284.1 672 L281.6 672.1 L279.2 671.9 L276.7 671.5 L274.1 670.9 L271.6 670.1 L269 669.1 L266.3 667.9 L263.7 666.5 L261.1 664.8 L258.4 663 L255.8 661 L253.2 658.8 L250.7 656.4 L248.1 653.9 L245.6 651.2 L243.2 648.3 L240.8 645.3 L238.5 642.1 L236.2 638.8 L234 635.4 L231.9 631.9 L229.9 628.2 L227.9 624.5 L226.1 620.7 L224.3 616.8 L222.7 612.8 L221.2 608.8 L219.8 604.8 L218.5 600.7 L217.3 596.6 L216.2 592.5 L215.3 588.4 L214.5 584.3 L213.9 580.3 L213.4 576.2 L213 572.2 L212.7 568.3 L212.6 564.5 L212.6 560.7 L212.8 557 L213.1 553.4 L213.5 550 L214.1 546.6 L214.8 543.4 L215.6 540.3 L216.6 537.4 L217.7 534.6 L218.9 532 L220.2 529.5 L221.7 527.2 L223.2 525.2 L224.9 523.2 L226.7 521.5 L228.6 520 L230.5 518.7 L232.6 517.6 L234.7 516.7 L237 516 L239.2 515.5 L241.6 515.3 L244 515.2 L246.5 515.4 L249 515.8 L251.5 516.3 L254.1 517.2 L256.7 518.2 L259.3 519.4 L262 520.8 L264.6 522.4 L267.2 524.3 L269.8 526.3 L272.4 528.5 L275 530.8 L277.5 533.4 L280 536.1 L282.5 539 L284.9 542 L287.2 545.2 L289.5 548.4 L291.7 551.9 L293.8 555.4 L295.8 559 L297.7 562.8 L299.6 566.6 L301.3 570.5 L303 574.4 L304.5 578.4" fill="none" stroke="#151515" stroke-width="2.0" stroke-linecap="round" stroke-linejoin="round"/>
<path d="M264.4 588.5 L265.8 592.8 L267 597 L268.2 601.3 L269.2 605.6 L270 609.9 L270.8 614.1 L271.3 618.4 L271.8 622.6 L272 626.7 L272.2 630.8 L272.2 634.8 L272 638.8 L271.7 642.6 L271.2 646.4 L270.7 650 L269.9 653.5 L269 656.9 L268 660.1 L266.8 663.2 L265.6 666.1 L264.1 668.8 L262.6 671.4 L260.9 673.8 L259.1 676 L257.2 678 L255.2 679.8 L253.1 681.3 L250.9 682.7 L248.6 683.9 L246.3 684.8 L243.8 685.6 L241.3 686.1 L238.7 686.4 L236.1 686.4 L233.4 686.3 L230.7 685.9 L227.9 685.3 L225.1 684.4 L222.3 683.4 L219.5 682.1 L216.7 680.6 L213.8 679 L211 677.1 L208.3 675 L205.5 672.7 L202.8 670.2 L200.1 667.6 L197.5 664.8 L194.9 661.8 L192.4 658.6 L189.9 655.3 L187.6 651.9 L185.3 648.3 L183.1 644.7 L181 640.9 L179.1 637 L177.2 633 L175.4 629 L173.8 624.8 L172.2 620.7 L170.8 616.4 L169.6 612.2 L168.4 607.9 L167.4 603.6 L166.6 599.3 L165.8 595.1 L165.3 590.8 L164.8 586.6 L164.6 582.5 L164.4 578.4 L164.4 574.4 L164.6 570.4 L164.9 566.6 L165.3 562.8 L165.9 559.2 L166.7 555.7 L167.6 552.3 L168.6 549.1 L169.7 546 L171 543.1 L172.5 540.4 L174 537.8 L175.7 535.4 L177.5 533.2 L179.4 531.2 L181.4 529.4 L183.5 527.9 L185.7 526.5 L188 525.3 L190.3 524.4 L192.8 523.6 L195.3 523.1 L197.9 522.8 L200.5 522.8 L203.2 522.9 L205.9 523.3 L208.7 523.9 L211.5 524.8 L214.3 525.8 L217.1 527.1 L219.9 528.6 L222.7 530.2 L225.5 532.1 L228.3 534.2 L231.1 536.5 L233.8 539 L236.5 541.6 L239.1 544.4 L241.7 547.4 L244.2 550.6 L246.6 553.9 L249 557.3 L251.3 560.9 L253.5 564.5 L255.6 568.3 L257.5 572.2 L259.4 576.2 L261.2 580.2 L262.8 584.4 L264.4 588.5" fill="#fff" stroke="#151515" stroke-width="2.3" stroke-linecap="round" stroke-linejoin="round"/>
<path d="M258.1 590.4 L259.3 594.2 L260.4 597.9 L261.4 601.7 L262.2 605.5 L262.9 609.3 L263.5 613.1 L264 616.8 L264.3 620.5 L264.6 624.2 L264.6 627.8 L264.6 631.4 L264.4 634.9 L264.1 638.3 L263.6 641.6 L263.1 644.8 L262.4 647.9 L261.6 650.8 L260.6 653.7 L259.6 656.4 L258.4 658.9 L257.1 661.4 L255.7 663.6 L254.2 665.7 L252.6 667.7 L250.9 669.4 L249.1 671 L247.2 672.4 L245.2 673.6 L243.2 674.6 L241 675.4 L238.9 676.1 L236.6 676.5 L234.3 676.7 L232 676.8 L229.6 676.6 L227.2 676.3 L224.7 675.7 L222.2 675 L219.7 674 L217.2 672.9 L214.8 671.6 L212.3 670 L209.8 668.4 L207.3 666.5 L204.9 664.5 L202.5 662.3 L200.1 659.9 L197.8 657.4 L195.6 654.7 L193.4 652 L191.2 649 L189.2 646 L187.2 642.8 L185.3 639.6 L183.5 636.2 L181.7 632.7 L180.1 629.2 L178.6 625.6 L177.1 622 L175.8 618.3 L174.6 614.5 L173.5 610.8 L172.6 607 L171.7 603.2 L171 599.4 L170.4 595.6 L169.9 591.9 L169.6 588.2 L169.4 584.5 L169.3 580.9 L169.4 577.3 L169.5 573.8 L169.8 570.4 L170.3 567.1 L170.9 563.9 L171.6 560.8 L172.4 557.9 L173.3 555 L174.4 552.3 L175.6 549.7 L176.8 547.3 L178.2 545.1 L179.8 543 L181.4 541 L183.1 539.3 L184.9 537.7 L186.8 536.3 L188.7 535.1 L190.8 534.1 L192.9 533.2 L195.1 532.6 L197.3 532.2 L199.6 531.9 L202 531.9 L204.4 532.1 L206.8 532.4 L209.2 533 L211.7 533.7 L214.2 534.7 L216.7 535.8 L219.2 537.1 L221.7 538.6 L224.1 540.3 L226.6 542.2 L229 544.2 L231.4 546.4 L233.8 548.8 L236.1 551.3 L238.4 553.9 L240.6 556.7 L242.7 559.7 L244.8 562.7 L246.7 565.9 L248.7 569.1 L250.5 572.5 L252.2 575.9 L253.8 579.5 L255.4 583.1 L256.8 586.7 L258.1 590.4" fill="none" stroke="#151515" stroke-width="1.7" stroke-linecap="round" stroke-linejoin="round" stroke-dasharray="14 2"/>
<clipPath id="lc"><path d="M256.2 591.1 L257.4 594.7 L258.4 598.4 L259.4 602 L260.2 605.7 L260.9 609.4 L261.5 613.1 L262 616.7 L262.3 620.3 L262.6 623.9 L262.7 627.4 L262.6 630.9 L262.5 634.3 L262.2 637.6 L261.8 640.8 L261.3 643.9 L260.6 646.9 L259.9 649.8 L259 652.5 L258 655.1 L256.9 657.6 L255.7 660 L254.3 662.2 L252.9 664.2 L251.4 666 L249.8 667.7 L248 669.3 L246.3 670.6 L244.4 671.8 L242.4 672.8 L240.4 673.5 L238.3 674.1 L236.2 674.6 L234 674.8 L231.7 674.8 L229.4 674.6 L227.1 674.3 L224.8 673.7 L222.4 673 L220 672 L217.6 670.9 L215.2 669.6 L212.9 668.1 L210.5 666.5 L208.1 664.7 L205.8 662.7 L203.5 660.5 L201.2 658.2 L199 655.8 L196.8 653.2 L194.7 650.5 L192.6 647.6 L190.6 644.6 L188.7 641.5 L186.9 638.4 L185.1 635.1 L183.5 631.7 L181.9 628.3 L180.4 624.8 L179 621.2 L177.7 617.6 L176.6 614 L175.5 610.3 L174.5 606.6 L173.7 603 L173 599.3 L172.4 595.6 L171.9 591.9 L171.6 588.3 L171.4 584.8 L171.3 581.3 L171.3 577.8 L171.4 574.4 L171.7 571.1 L172.1 567.9 L172.7 564.8 L173.3 561.8 L174.1 558.9 L174.9 556.2 L175.9 553.5 L177.1 551.1 L178.3 548.7 L179.6 546.5 L181 544.5 L182.6 542.6 L184.2 540.9 L185.9 539.4 L187.7 538.1 L189.6 536.9 L191.5 535.9 L193.5 535.1 L195.6 534.5 L197.8 534.1 L200 533.9 L202.2 533.9 L204.5 534.1 L206.8 534.4 L209.2 535 L211.5 535.7 L213.9 536.7 L216.3 537.8 L218.7 539.1 L221.1 540.5 L223.5 542.2 L225.8 544 L228.1 546 L230.5 548.2 L232.7 550.5 L234.9 552.9 L237.1 555.5 L239.2 558.2 L241.3 561.1 L243.3 564.1 L245.2 567.1 L247 570.3 L248.8 573.6 L250.5 577 L252.1 580.4 L253.5 583.9 L254.9 587.5 L256.2 591.1Z"/></clipPath>
<g clip-path="url(#lc)">
<path d="M216.3 668.9 L213.9 667 L211.5 664.9 L209.2 662.7 L206.9 660.3 L204.6 657.7 L202.4 655.1 L200.2 652.2 L198.2 649.3 L196.2 646.2 L194.2 643 L192.4 639.7 L190.6 636.4 L189 632.9 L187.4 629.4 L185.9 625.8 L184.6 622.1 L183.3 618.4 L182.2 614.7 L181.2 611 L180.3 607.2 L179.5 603.4 L178.9 599.7 L178.3 596 L177.9 592.3 L177.7 588.6 L177.5 585 L177.5 581.4 L177.7 578 L177.9 574.6 L178.3 571.3 L178.8 568.1 L179.5 565 L180.2 562 L181.1 559.2 L182.1 556.4 L183.3 553.9 L184.5 551.4 L185.8 549.2 L187.3 547.1 L188.9 545.1 L190.5 543.3 L192.3 541.8 L194.1 540.3 L196 539.1 L198 538.1 L200.1 537.3 L202.3 536.6 L204.5 536.2 L206.7 535.9 L209 535.9 L211.4 536 L213.8 536.4 L216.2 536.9 L218.6 537.7 L221.1 538.6 L223.5 539.7" fill="none" stroke="#151515" stroke-width="2.6" stroke-linecap="round" stroke-linejoin="round" stroke-dasharray="3.5 3.2"/>
<path d="M223.7 670.1 L221.3 668.2 L219 666.2 L216.7 664 L214.5 661.6 L212.3 659.1 L210.1 656.5 L208 653.7 L206 650.8 L204 647.8 L202.1 644.7 L200.3 641.5 L198.6 638.2 L197 634.8 L195.5 631.3 L194 627.8 L192.7 624.2 L191.5 620.6 L190.4 616.9 L189.4 613.3 L188.5 609.6 L187.7 605.9 L187.1 602.2 L186.6 598.6 L186.2 595 L185.9 591.4 L185.8 587.8 L185.8 584.4 L185.9 581 L186.1 577.7 L186.5 574.4 L187 571.3 L187.6 568.3 L188.3 565.3 L189.2 562.6 L190.2 559.9 L191.2 557.4 L192.4 555 L193.8 552.8 L195.2 550.7 L196.7 548.8 L198.3 547.1 L200 545.6 L201.8 544.2 L203.7 543 L205.6 542 L207.6 541.2 L209.7 540.5 L211.8 540.1 L214 539.9 L216.3 539.8 L218.6 540 L220.9 540.3 L223.2 540.9 L225.6 541.6 L228 542.5 L230.4 543.7" fill="none" stroke="#151515" stroke-width="2.6" stroke-linecap="round" stroke-linejoin="round" stroke-dasharray="3.5 3.2"/>
<path d="M231.1 671.3 L228.8 669.4 L226.5 667.4 L224.3 665.3 L222.1 662.9 L219.9 660.5 L217.8 657.9 L215.8 655.2 L213.8 652.3 L211.9 649.4 L210 646.3 L208.3 643.2 L206.6 639.9 L205 636.6 L203.5 633.2 L202.1 629.8 L200.8 626.3 L199.6 622.7 L198.5 619.2 L197.6 615.6 L196.7 612 L195.9 608.4 L195.3 604.8 L194.8 601.2 L194.4 597.7 L194.1 594.2 L194 590.7 L194 587.3 L194.1 584 L194.3 580.7 L194.7 577.6 L195.1 574.5 L195.7 571.5 L196.4 568.7 L197.3 566 L198.2 563.4 L199.2 560.9 L200.4 558.6 L201.7 556.4 L203 554.4 L204.5 552.6 L206.1 550.9 L207.7 549.4 L209.4 548 L211.3 546.9 L213.1 545.9 L215.1 545.1 L217.1 544.5 L219.2 544.1 L221.3 543.8 L223.5 543.8 L225.7 544 L228 544.3 L230.3 544.8 L232.6 545.6 L234.9 546.5 L237.2 547.6" fill="none" stroke="#151515" stroke-width="2.6" stroke-linecap="round" stroke-linejoin="round" stroke-dasharray="3.5 3.2"/>
<path d="M238.4 672.4 L236.2 670.6 L234 668.6 L231.8 666.5 L229.7 664.3 L227.6 661.9 L225.5 659.3 L223.5 656.7 L221.6 653.9 L219.7 651 L218 648 L216.2 644.9 L214.6 641.7 L213 638.5 L211.6 635.2 L210.2 631.8 L208.9 628.4 L207.8 624.9 L206.7 621.4 L205.7 617.9 L204.9 614.4 L204.2 610.8 L203.5 607.3 L203 603.8 L202.6 600.4 L202.4 596.9 L202.2 593.5 L202.2 590.2 L202.3 587 L202.5 583.8 L202.8 580.7 L203.3 577.7 L203.8 574.8 L204.5 572 L205.3 569.4 L206.2 566.8 L207.2 564.4 L208.4 562.2 L209.6 560.1 L210.9 558.1 L212.3 556.3 L213.8 554.6 L215.4 553.2 L217.1 551.9 L218.9 550.7 L220.7 549.8 L222.6 549 L224.6 548.4 L226.6 548 L228.6 547.8 L230.8 547.8 L232.9 547.9 L235.1 548.3 L237.3 548.8 L239.6 549.5 L241.8 550.4 L244.1 551.5" fill="none" stroke="#151515" stroke-width="2.6" stroke-linecap="round" stroke-linejoin="round" stroke-dasharray="3.5 3.2"/>
<path d="M245.8 673.6 L243.6 671.8 L241.5 669.9 L239.4 667.8 L237.3 665.6 L235.2 663.2 L233.2 660.8 L231.3 658.1 L229.4 655.4 L227.6 652.6 L225.9 649.7 L224.2 646.6 L222.6 643.5 L221.1 640.3 L219.6 637.1 L218.3 633.8 L217.1 630.4 L215.9 627 L214.9 623.6 L213.9 620.2 L213.1 616.7 L212.4 613.3 L211.8 609.9 L211.3 606.4 L210.9 603 L210.6 599.7 L210.5 596.4 L210.4 593.2 L210.5 590 L210.7 586.9 L211 583.9 L211.4 580.9 L212 578.1 L212.6 575.4 L213.4 572.8 L214.3 570.3 L215.2 568 L216.3 565.8 L217.5 563.7 L218.8 561.8 L220.1 560 L221.6 558.4 L223.1 557 L224.8 555.7 L226.5 554.6 L228.2 553.7 L230.1 552.9 L232 552.4 L233.9 552 L235.9 551.8 L238 551.7 L240.1 551.9 L242.2 552.3 L244.4 552.8 L246.5 553.5 L248.7 554.4 L250.9 555.4" fill="none" stroke="#151515" stroke-width="2.6" stroke-linecap="round" stroke-linejoin="round" stroke-dasharray="3.5 3.2"/>
<path d="M253.1 674.7 L251 673 L249 671.1 L246.9 669.1 L244.9 666.9 L242.9 664.6 L241 662.2 L239.1 659.6 L237.2 657 L235.5 654.2 L233.8 651.3 L232.1 648.4 L230.6 645.3 L229.1 642.2 L227.7 639 L226.4 635.8 L225.2 632.5 L224.1 629.2 L223 625.9 L222.1 622.5 L221.3 619.1 L220.6 615.8 L220 612.4 L219.5 609.1 L219.1 605.7 L218.8 602.5 L218.7 599.2 L218.6 596.1 L218.7 593 L218.9 589.9 L219.2 587 L219.6 584.1 L220.1 581.4 L220.7 578.7 L221.4 576.2 L222.3 573.8 L223.2 571.5 L224.3 569.3 L225.4 567.3 L226.6 565.4 L228 563.7 L229.4 562.2 L230.9 560.8 L232.4 559.5 L234.1 558.5 L235.8 557.6 L237.6 556.8 L239.4 556.3 L241.3 555.9 L243.2 555.7 L245.2 555.7 L247.3 555.9 L249.3 556.2 L251.4 556.7 L253.5 557.4 L255.6 558.3 L257.8 559.3" fill="none" stroke="#151515" stroke-width="2.6" stroke-linecap="round" stroke-linejoin="round" stroke-dasharray="3.5 3.2"/>
<path d="M197.3 535.4 L199.4 535.2 L201.5 535.1 L203.7 535.3 L206 535.6 L208.3 536.1 L210.6 536.8 L212.9 537.7 L215.2 538.8 L217.6 540.1 L219.9 541.6 L222.2 543.2 L224.5 545 L226.8 547 L229.1 549.2 L231.3 551.5 L233.5 553.9 L235.6 556.5 L237.7 559.2 L239.7 562.1 L241.7 565.1 L243.6 568.2 L245.4 571.4 L247.1 574.6 L248.8 578 L250.4 581.5 L251.8 585 L253.2 588.5 L254.5 592.1 L255.6 595.8 L256.7 599.4 L257.6 603.1 L258.4 606.8 L259.1 610.5 L259.7 614.1 L260.2 617.8 L260.5 621.4 L260.8 624.9 L260.9 628.4 L260.8 631.8 L260.7 635.2 L260.4 638.4" fill="none" stroke="#151515" stroke-width="2.0" stroke-linecap="round" stroke-linejoin="round" stroke-dasharray="2.5 3"/>
<path d="M198 538.6 L199.9 538.4 L201.8 538.3 L203.8 538.5 L205.9 538.9 L207.9 539.4 L210 540.1 L212.1 541 L214.3 542.1 L216.4 543.4 L218.5 544.8 L220.7 546.4 L222.8 548.2 L224.9 550.1 L227 552.2 L229 554.4 L231 556.7 L233 559.2 L234.9 561.9 L236.8 564.6 L238.7 567.5 L240.4 570.5 L242.1 573.5 L243.7 576.7 L245.3 579.9 L246.8 583.2 L248.2 586.5 L249.5 589.9 L250.7 593.4 L251.8 596.9 L252.8 600.4 L253.7 603.9 L254.5 607.4 L255.2 610.9 L255.8 614.4 L256.3 617.8 L256.7 621.3 L256.9 624.6 L257.1 627.9 L257.1 631.2 L257 634.4 L256.8 637.4" fill="none" stroke="#151515" stroke-width="2.0" stroke-linecap="round" stroke-linejoin="round" stroke-dasharray="2.5 3"/>
<path d="M214 577 L268 607" fill="none" stroke="#151515" stroke-width="2.2" stroke-linecap="round" stroke-linejoin="round" stroke-dasharray="9 3"/>
<path d="M214 596 L268 626" fill="none" stroke="#151515" stroke-width="2.2" stroke-linecap="round" stroke-linejoin="round" stroke-dasharray="9 3"/>
<path d="M214 615 L268 645" fill="none" stroke="#151515" stroke-width="2.2" stroke-linecap="round" stroke-linejoin="round" stroke-dasharray="9 3"/>
<path d="M214 634 L268 664" fill="none" stroke="#151515" stroke-width="2.2" stroke-linecap="round" stroke-linejoin="round" stroke-dasharray="9 3"/>
<path d="M214 653 L268 683" fill="none" stroke="#151515" stroke-width="2.2" stroke-linecap="round" stroke-linejoin="round" stroke-dasharray="9 3"/>
<path d="M220 585 L226 690" fill="none" stroke="#151515" stroke-width="2.4" stroke-linecap="round" stroke-linejoin="round" stroke-dasharray="3 3.5"/>
<path d="M228 585 L234 690" fill="none" stroke="#151515" stroke-width="2.4" stroke-linecap="round" stroke-linejoin="round" stroke-dasharray="3 3.5"/>
<path d="M236 585 L242 690" fill="none" stroke="#151515" stroke-width="2.4" stroke-linecap="round" stroke-linejoin="round" stroke-dasharray="3 3.5"/>
<path d="M244 585 L250 690" fill="none" stroke="#151515" stroke-width="2.4" stroke-linecap="round" stroke-linejoin="round" stroke-dasharray="3 3.5"/>
<path d="M252 585 L258 690" fill="none" stroke="#151515" stroke-width="2.4" stroke-linecap="round" stroke-linejoin="round" stroke-dasharray="3 3.5"/>
<path d="M260 585 L266 690" fill="none" stroke="#151515" stroke-width="2.4" stroke-linecap="round" stroke-linejoin="round" stroke-dasharray="3 3.5"/>
</g>
<path d="M158.3 559 L160.7 560.9 L163 562.9 L165.3 564.9 L167.5 567.1 L169.7 569.4 L171.9 571.7 L174 574.1 L176 576.6 L178 579.1 L180 581.8 L181.9 584.4 L183.7 587.2 L185.5 590 L187.2 592.9 L188.8 595.8 L190.4 598.8 L191.9 601.8 L193.3 604.9 L194.7 607.9 L196 611.1 L197.2 614.2 L198.3 617.4 L199.4 620.6 L200.3 623.9 L201.2 627.1 L202 630.3 L202.8 633.6 L203.4 636.9 L204 640.1 L204.4 643.4 L204.8 646.6 L205.1 649.9 L205.3 653.1 L205.4 656.3 L205.5 659.4 L205.4 662.6 L205.3 665.7 L205 668.7 L204.7 671.8 L204.3 674.7 L203.8 677.7 L203.2 680.6 L202.6 683.4 L201.8 686.2 L201 688.9 L200.1 691.5 L199.1 694.1 L198 696.6 L196.9 699 L195.6 701.4 L194.3 703.6 L192.9 705.8 L191.5 707.9 L189.9 710 L188.4 711.9 L186.7 713.7 L185 715.4 L183.2 717.1 L181.3 718.6 L179.4 720 L177.5 721.4 L175.4 722.6 L173.4 723.7 L171.2 724.7 L169.1 725.6 L166.9 726.4 L164.6 727.1 L162.3 727.7 L160 728.1 L157.7 728.5 L155.3 728.7 L152.9 728.8 L150.4 728.8 L148 728.7 L145.5 728.5 L143 728.1 L140.5 727.7 L138 727.1 L135.5 726.4 L133 725.6 L130.5 724.7 L128 723.7 L125.5 722.6 L123 721.4 L120.5 720.1 L118.1 718.6 L115.6 717.1 L113.2 715.5 L110.8 713.7 L108.4 711.9 L106.1 710 L103.8 708 L101.5 705.9 L99.3 703.7 L97.1 701.4 L95 699.1 L92.9 696.6 L90.9 694.1 L88.9 691.5 L86.9 688.9 L85.1 686.2 L83.2 683.4 L81.5 680.6 L79.8 677.7 L78.2 674.8 L76.6 671.8 L75.1 668.8 L73.7 665.7 L72.4 662.6 L71.1 659.5 L69.9 656.3 L68.8 653.1 L67.8 649.9 L66.8 646.7 L66 643.4 L65.2 640.2 L64.5 636.9 L63.8 633.6 L63.3 630.4 L62.9 627.1 L62.5 623.9 L62.2 620.7 L62.1 617.5 L62 614.3 L62 611.1 L62 608 L62.2 604.9 L62.5 601.8 L62.8 598.8 L63.2 595.8 L63.7 592.9 L64.3 590 L65 587.2 L65.8 584.5 L66.7 581.8 L67.6 579.2 L68.6 576.6 L69.7 574.1 L70.9 571.7 L72.1 569.4 L73.5 567.1 L74.9 565 L76.3 562.9 L77.9 560.9 L79.5 559 L81.2 557.2 L82.9 555.5 L84.7 553.9 L86.6 552.4 L88.5 551 L90.5 549.7 L92.5 548.5 L94.6 547.4 L96.7 546.4 L98.9 545.5 L101.1 544.8 L103.4 544.1 L105.7 543.6 L108 543.2 L110.4 542.8 L112.8 542.6 L115.2 542.6 L117.6 542.6 L120.1 542.7 L122.6 543 L125 543.4 L127.5 543.8 L130 544.4 L121.7 545.6 L116 558.4 L110.8 566 L109.5 565.8 L108.2 565.8 L106.9 565.8 L105.6 565.9 L104.4 566.2 L103.2 566.5 L102 566.8 L100.9 567.3 L99.7 567.9 L98.7 568.5 L97.6 569.3 L96.6 570.1 L95.6 571 L94.6 571.9 L93.7 573 L92.9 574.1 L92 575.4 L91.2 576.6 L90.5 578 L89.8 579.4 L89.1 581 L88.5 582.5 L88 584.2 L87.4 585.9 L87 587.7 L86.5 589.5 L86.2 591.4 L85.8 593.4 L85.5 595.4 L85.3 597.4 L85.1 599.6 L85 601.7 L84.9 603.9 L84.9 606.2 L84.9 608.4 L85 610.8 L85.1 613.1 L85.2 615.5 L85.5 617.9 L85.7 620.3 L86 622.8 L86.4 625.3 L86.8 627.7 L87.3 630.2 L87.8 632.8 L88.3 635.3 L88.9 637.8 L89.6 640.3 L90.3 642.8 L91 645.3 L91.8 647.8 L92.6 650.3 L93.4 652.8 L94.3 655.3 L95.3 657.7 L96.2 660.1 L97.3 662.5 L98.3 664.9 L99.4 667.2 L100.5 669.5 L101.6 671.7 L102.8 673.9 L104 676.1 L105.2 678.2 L106.5 680.3 L107.8 682.3 L109.1 684.3 L110.4 686.2 L111.7 688 L113.1 689.8 L114.4 691.5 L115.8 693.2 L117.2 694.8 L118.6 696.3 L120 697.8 L121.5 699.1 L122.9 700.4 L124.3 701.7 L125.8 702.8 L127.2 703.9 L128.6 704.9 L130.1 705.8 L131.5 706.6 L132.9 707.4 L134.3 708 L135.7 708.6 L137.1 709.1 L138.5 709.5 L139.8 709.8 L141.2 710 L142.5 710.2 L143.8 710.2 L145.1 710.2 L146.4 710.1 L147.6 709.8 L148.8 709.5 L150 709.2 L151.1 708.7 L152.3 708.1 L153.3 707.5 L154.4 706.7 L155.4 705.9 L156.4 705 L157.4 704.1 L158.3 703 L159.1 701.9 L160 700.6 L160.8 699.4 L161.5 698 L162.2 696.6 L162.9 695 L163.5 693.5 L164 691.8 L164.6 690.1 L165 688.3 L165.5 686.5 L165.8 684.6 L166.2 682.6 L166.5 680.6 L166.7 678.6 L166.9 676.4 L167 674.3 L167.1 672.1 L167.1 669.8 L167.1 667.6 L167 665.2 L166.9 662.9 L166.8 660.5 L166.5 658.1 L166.3 655.7 L166 653.2 L165.6 650.7 L165.2 648.3 L164.7 645.8 L164.2 643.2 L163.7 640.7 L163.1 638.2 L162.4 635.7 L161.7 633.2 L161 630.7 L160.2 628.2 L159.4 625.7 L158.6 623.2 L157.7 620.7 L156.7 618.3 L155.8 615.9 L154.7 613.5 L153.7 611.1 L152.6 608.8 L151.5 606.5 L150.4 604.3 L149.2 602.1 L148 599.9 L146.8 597.8 L145.5 595.7 L144.2 593.7 L142.9 591.7 L141.6 589.8 L140.3 588Z" fill="#fff" stroke="#151515" stroke-width="2.2" stroke-linecap="round" stroke-linejoin="round"/>
<path d="M155.4 725.4 L152.1 725.6 L148.7 725.6 L145.3 725.3 L141.9 724.8 L138.4 724.1 L134.9 723.1 L131.4 721.8 L127.9 720.3 L124.4 718.6 L120.9 716.7 L117.5 714.5 L114.1 712.1 L110.8 709.6 L107.5 706.8 L104.3 703.8 L101.1 700.6 L98.1 697.2 L95.1 693.7 L92.3 690 L89.6 686.2 L86.9 682.2 L84.4 678.1 L82.1 673.9 L79.9 669.6 L77.8 665.2 L75.9 660.7 L74.1 656.1 L72.5 651.5 L71 646.8 L69.8 642.1 L68.7 637.4 L67.8 632.7 L67 628 L66.5 623.3 L66.1 618.7 L65.9 614.1 L65.9 609.5 L66.1 605.1 L66.4 600.7 L67 596.4 L67.7 592.3 L68.6 588.2 L69.7 584.3 L70.9 580.5 L72.3 576.9 L73.9 573.5 L75.7 570.2 L77.6 567.1 L79.6 564.2 L81.9 561.5 L84.2 559 L86.7 556.7 L89.3 554.6 L92 552.8 L94.9 551.2 L97.8 549.8 L100.8 548.6 L104 547.8 L107.2 547.1 L110.4 546.7 L113.8 546.6" fill="none" stroke="#151515" stroke-width="2.7" stroke-linecap="round" stroke-linejoin="round" stroke-dasharray="10 2"/>
<path d="M151.4 720.7 L148.5 720.7 L145.5 720.6 L142.5 720.2 L139.5 719.6 L136.4 718.8 L133.4 717.7 L130.3 716.4 L127.2 714.9 L124.1 713.2 L121.1 711.3 L118.1 709.1 L115.1 706.8 L112.1 704.2 L109.2 701.5 L106.4 698.6 L103.6 695.5 L100.9 692.3 L98.3 688.9 L95.7 685.3 L93.3 681.7 L91 677.9 L88.7 674 L86.6 669.9 L84.6 665.8 L82.8 661.6 L81.1 657.4 L79.5 653.1 L78 648.7 L76.7 644.3 L75.6 639.9 L74.6 635.5 L73.7 631.1 L73 626.6 L72.5 622.3 L72.1 617.9 L71.9 613.6 L71.8 609.4 L72 605.3 L72.2 601.2 L72.7 597.3 L73.3 593.4 L74 589.7 L74.9 586.1 L76 582.6 L77.2 579.3 L78.6 576.1 L80.1 573.2 L81.7 570.3 L83.5 567.7 L85.4 565.3 L87.4 563.1 L89.6 561 L91.9 559.2 L94.2 557.6 L96.7 556.2 L99.3 555 L101.9 554.1 L104.7 553.4 L107.5 552.9 L110.3 552.7 L113.3 552.6" fill="none" stroke="#151515" stroke-width="3.0" stroke-linecap="round" stroke-linejoin="round" stroke-dasharray="3 1.2"/>
<path d="M147.7 716.1 L145.2 716.1 L142.6 715.8 L140 715.3 L137.4 714.6 L134.8 713.7 L132.1 712.6 L129.4 711.3 L126.7 709.8 L124.1 708.1 L121.4 706.1 L118.8 704 L116.1 701.7 L113.6 699.2 L111 696.6 L108.5 693.8 L106.1 690.8 L103.7 687.7 L101.4 684.4 L99.2 681 L97 677.5 L95 673.9 L93 670.2 L91.1 666.3 L89.4 662.5 L87.7 658.5 L86.2 654.5 L84.7 650.4 L83.4 646.3 L82.2 642.1 L81.2 638 L80.3 633.8 L79.5 629.7 L78.8 625.6 L78.3 621.5 L77.9 617.5 L77.7 613.5 L77.6 609.5 L77.6 605.7 L77.8 601.9 L78.1 598.3 L78.6 594.7 L79.2 591.3 L79.9 588 L80.8 584.8 L81.8 581.8 L83 578.9 L84.2 576.2 L85.6 573.7 L87.1 571.3 L88.7 569.1 L90.4 567.1 L92.3 565.3 L94.2 563.7 L96.2 562.3 L98.4 561.1 L100.6 560.2 L102.8 559.4 L105.2 558.9 L107.6 558.5 L110.1 558.4 L112.6 558.5" fill="none" stroke="#151515" stroke-width="2.7" stroke-linecap="round" stroke-linejoin="round" stroke-dasharray="12 2 3 2"/>
<path d="M145.8 590.4 L147.8 593.6 L149.8 596.9 L151.8 600.3 L153.7 603.8 L155.5 607.4 L157.2 611.1 L158.8 614.9 L160.3 618.7 L161.7 622.6 L163.1 626.5 L164.3 630.5 L165.4 634.5 L166.4 638.5 L167.3 642.5 L168.1 646.5 L168.7 650.4 L169.3 654.4 L169.7 658.3 L170 662.1 L170.1 665.8 L170.2 669.5 L170.1 673.1 L169.9 676.6 L169.5 680 L169.1 683.2 L168.5 686.4 L167.8 689.3 L167 692.2 L166 694.9 L165 697.4 L163.8 699.8 L162.6 702 L161.2 704 L159.7 705.8 L158.2 707.4 L156.5 708.9 L154.8 710.1 L152.9 711.1 L151 712 L149.1 712.6 L147 713" fill="none" stroke="#151515" stroke-width="1.9" stroke-linecap="round" stroke-linejoin="round" stroke-dasharray="16 2"/>
<path d="M190.8 700.2 L188.9 703.5 L186.8 706.7 L184.6 709.6 L182.2 712.3 L179.7 714.8 L177 717.1 L174.2 719.1 L171.3 720.8 L168.2 722.3 L165.1 723.6 L161.8 724.6 L158.5 725.3 L155.1 725.8 L151.6 726 L148 725.9 L144.4 725.6" fill="none" stroke="#151515" stroke-width="1.5" stroke-linecap="round" stroke-linejoin="round" stroke-dasharray="6 3"/>
<path d="M95.8 543.6 C97.6 542.6 103.5 538.8 106.8 537.6 C110.1 536.4 112.3 536.6 115.6 536.5 C118.9 536.4 124.1 536.6 126.6 537 C129.1 537.4 129.9 538 130.5 538.7 C131.1 539.4 130.6 540.5 129.9 541.4 C129.2 542.3 127.1 543.7 126.6 544.2" fill="none" stroke="#151515" stroke-width="2.2" stroke-linecap="round" stroke-linejoin="round"/>
<path d="M126.6 544.2 L123.3 545.8 L120 553.5 L116.7 555.7 L113.4 563.4 L109 570" fill="none" stroke="#151515" stroke-width="2.0" stroke-linecap="round" stroke-linejoin="round"/>
<path d="M100.5 547 L113 546.5 L115 550 L113 554.6 L101 553.5Z" fill="none" stroke="#151515" stroke-width="1.7" stroke-linecap="round" stroke-linejoin="round"/>
<circle cx="106" cy="551" r="1.1" fill="#151515"/>
<path d="M87 559.5 L114.5 558" fill="none" stroke="#151515" stroke-width="2.0" stroke-linecap="round" stroke-linejoin="round" stroke-dasharray="4 2"/>
<path d="M117 556 L133 566" fill="none" stroke="#151515" stroke-width="1.6" stroke-linecap="round" stroke-linejoin="round" stroke-dasharray="3 2"/>
<circle cx="135" cy="568" r="1.5" fill="#151515"/>
<path d="M150 585 L153 574 L159 576 L160 585" fill="none" stroke="#151515" stroke-width="1.7" stroke-linecap="round" stroke-linejoin="round"/>
<path d="M152 580 L159 580" fill="none" stroke="#151515" stroke-width="1.3" stroke-linecap="round" stroke-linejoin="round"/>
<circle cx="166" cy="586.5" r="1.3" fill="#151515"/>
<circle cx="170.6" cy="592" r="1.3" fill="#151515"/>
<path d="M162 582 L165 584" fill="none" stroke="#151515" stroke-width="1.4" stroke-linecap="round" stroke-linejoin="round"/>
<path d="M95.5 611 L94.5 616" fill="none" stroke="#151515" stroke-width="2.2" stroke-linecap="round" stroke-linejoin="round"/>
<path d="M94 618.5 L93.2 622" fill="none" stroke="#151515" stroke-width="2.2" stroke-linecap="round" stroke-linejoin="round"/>
<path d="M81 523 L84 522.7 L86 525" fill="none" stroke="#151515" stroke-width="2.0" stroke-linecap="round" stroke-linejoin="round"/>
<path d="M79 527 L75 531 L79 533 L76 537 L78 541" fill="none" stroke="#151515" stroke-width="1.9" stroke-linecap="round" stroke-linejoin="round"/>
<path d="M81 530 L84 534" fill="none" stroke="#151515" stroke-width="1.6" stroke-linecap="round" stroke-linejoin="round"/>
<path d="M84 531.5 L94.7 542" fill="none" stroke="#151515" stroke-width="1.6" stroke-linecap="round" stroke-linejoin="round"/>
<path d="M315 685.5 L346 703.5" fill="none" stroke="#151515" stroke-width="1.9" stroke-linecap="round" stroke-linejoin="round"/>
<path d="M312 692.5 L343 710.5" fill="none" stroke="#151515" stroke-width="1.9" stroke-linecap="round" stroke-linejoin="round"/>
<path d="M316 689.5 L344 706.5" fill="none" stroke="#151515" stroke-width="2.6" stroke-linecap="round" stroke-linejoin="round" stroke-dasharray="2 1.6"/>
<path d="M306 683 C306.7 681.9 307.7 681.6 309 681.6 C310.3 681.6 312.8 681.9 314 683 C315.2 684.1 316 686.7 316 688 C316 689.3 315.2 690.6 314 691 C312.8 691.4 310.5 691.1 309 690.6 C307.5 690.1 305.5 689.3 305 688 C304.5 686.7 305.3 684.1 306 683Z" fill="none" stroke="#151515" stroke-width="2.0" stroke-linecap="round" stroke-linejoin="round"/>
<path d="M345 704 L352 704 L355.6 707 L354 713 L348 715 L345 711Z" fill="none" stroke="#151515" stroke-width="2.2" stroke-linecap="round" stroke-linejoin="round"/>
<text x="430.3" y="775.2" font-size="28.6" font-weight="normal" font-style="normal" text-anchor="middle" fill="#151515">1</text>
<text x="821.5" y="686.5" font-size="31.8" font-weight="normal" font-style="normal" text-anchor="middle" fill="#151515">1</text>
<text x="399.5" y="716" font-size="22.7" font-weight="normal" font-style="normal" text-anchor="middle" fill="#151515">8</text>
<text x="306.1" y="733" font-size="24.2" font-weight="normal" font-style="normal" text-anchor="middle" fill="#151515">9</text>
<text x="122" y="478" font-size="24.2" font-weight="normal" font-style="normal" text-anchor="middle" fill="#151515">2</text>
<text x="89.5" y="514" font-size="22.7" font-weight="normal" font-style="normal" text-anchor="middle" fill="#151515">10</text>
<text x="172.9" y="461.7" font-size="23.3" font-weight="bold" font-style="normal" text-anchor="middle" fill="#151515">3</text>
<text x="224" y="446.3" font-size="23.3" font-weight="bold" font-style="normal" text-anchor="middle" fill="#151515">4</text>
<text x="269" y="431" font-size="21.2" font-weight="normal" font-style="normal" text-anchor="middle" fill="#151515">5</text>
<text x="385.5" y="491" font-size="22.7" font-weight="normal" font-style="normal" text-anchor="middle" fill="#151515">6</text>
<text x="431.2" y="483" font-size="22.7" font-weight="normal" font-style="normal" text-anchor="middle" fill="#151515">7</text>
<text x="703.9" y="55" font-size="24.2" font-weight="normal" font-style="normal" text-anchor="middle" fill="#151515">18</text>
<text x="605.5" y="143.4" font-size="22.6" font-weight="normal" font-style="normal" text-anchor="middle" fill="#151515">13</text>
<text x="667.2" y="156.2" font-size="21.1" font-weight="normal" font-style="normal" text-anchor="middle" fill="#151515">14</text>
<text x="696" y="162.5" font-size="22.4" font-weight="normal" font-style="normal" text-anchor="middle" fill="#151515">15</text>
<text x="899.6" y="65.8" font-size="25" font-weight="normal" font-style="normal" text-anchor="middle" fill="#151515">19</text>
<text x="897.5" y="159.2" font-size="25" font-weight="normal" font-style="normal" text-anchor="middle" fill="#151515">18</text>
<text x="671" y="314" font-size="24.2" font-weight="normal" font-style="italic" text-anchor="middle" fill="#151515">17</text>
<text x="801" y="238" font-size="27.3" font-weight="bold" font-style="italic" text-anchor="middle" fill="#151515">16</text>
<text transform="translate(768.6 267.6) scale(0.65 1)" font-size="28.9" font-weight="normal" font-style="normal" text-anchor="middle" fill="#151515">16</text>
<text x="859.5" y="262" font-size="25.8" font-weight="normal" font-style="normal" text-anchor="middle" fill="#151515">15</text>
<text x="901.5" y="277" font-size="27.3" font-weight="bold" font-style="normal" text-anchor="middle" fill="#151515">14</text>
<text x="971.5" y="317" font-size="24.2" font-weight="normal" font-style="normal" text-anchor="middle" fill="#151515">13</text>
<text x="886.4" y="461" font-size="28.2" font-weight="bold" font-style="normal" text-anchor="middle" fill="#151515">12</text>
<path d="M707.8 595.5 C707.5 596.9 706.8 601.2 706.2 604 C705.6 606.8 704.4 611.1 704 612.5" fill="none" stroke="#151515" stroke-width="2.6" stroke-linecap="round" stroke-linejoin="round"/>
<circle cx="707.6" cy="595.5" r="2.3" fill="#151515"/>
<path d="M700.5 611.8 L705.5 613.2" fill="none" stroke="#151515" stroke-width="2.3" stroke-linecap="round" stroke-linejoin="round"/>
<path d="M720.4 599 C720.2 600.3 719.7 604.5 719.3 607 C718.9 609.5 718.4 612.8 718.2 614" fill="none" stroke="#151515" stroke-width="2.2" stroke-linecap="round" stroke-linejoin="round"/>
<path d="M713.8 614.8 L719.6 614.8" fill="none" stroke="#151515" stroke-width="2.2" stroke-linecap="round" stroke-linejoin="round"/>
<circle cx="719.3" cy="587.2" r="1.3" fill="#151515"/>
<path d="M378 743.7 L415 767" fill="none" stroke="#151515" stroke-width="1.3" stroke-linecap="round" stroke-linejoin="round"/>
<path d="M767.3 660.3 L798.8 676" fill="none" stroke="#151515" stroke-width="1.1" stroke-linecap="round" stroke-linejoin="round"/>
<path d="M361 711.3 L389.8 711.3" fill="none" stroke="#151515" stroke-width="2.8" stroke-linecap="round" stroke-linejoin="round"/>
<path d="M311.5 714 L324 702" fill="none" stroke="#151515" stroke-width="1.6" stroke-linecap="round" stroke-linejoin="round"/>
<path d="M118 482.6 L116.5 537" fill="none" stroke="#151515" stroke-width="2.4" stroke-linecap="round" stroke-linejoin="round"/>
<path d="M174.5 467.2 L188.8 521" fill="none" stroke="#151515" stroke-width="2.4" stroke-linecap="round" stroke-linejoin="round"/>
<path d="M226.2 452.9 L241.6 507" fill="none" stroke="#151515" stroke-width="2.2" stroke-linecap="round" stroke-linejoin="round"/>
<path d="M269 437.5 L288.9 493.6" fill="none" stroke="#151515" stroke-width="2.2" stroke-linecap="round" stroke-linejoin="round"/>
<path d="M387 496 L398 536" fill="none" stroke="#151515" stroke-width="2.0" stroke-linecap="round" stroke-linejoin="round"/>
<path d="M433 494.5 L437 518.6" fill="none" stroke="#151515" stroke-width="2.0" stroke-linecap="round" stroke-linejoin="round"/>
<path d="M87 537 L95 543" fill="none" stroke="#151515" stroke-width="1.6" stroke-linecap="round" stroke-linejoin="round"/>
<path d="M707.8 490.5 L720 574.5" fill="none" stroke="#151515" stroke-width="0.9" stroke-linecap="round" stroke-linejoin="round"/>
<path d="M852 446.5 L870.2 451.4" fill="none" stroke="#151515" stroke-width="2.2" stroke-linecap="round" stroke-linejoin="round"/>
<path d="M617 116.8 L634 98.7" fill="none" stroke="#151515" stroke-width="1.4" stroke-linecap="round" stroke-linejoin="round"/>
<path d="M675.7 135 L686 122" fill="none" stroke="#151515" stroke-width="1.4" stroke-linecap="round" stroke-linejoin="round"/>
<path d="M859.5 70.5 L883 55" fill="none" stroke="#151515" stroke-width="1.4" stroke-linecap="round" stroke-linejoin="round"/>
<path d="M867.8 143.8 L881 146" fill="none" stroke="#151515" stroke-width="1.4" stroke-linecap="round" stroke-linejoin="round"/>
<path d="M716 62.5 L721.5 81.7" fill="none" stroke="#151515" stroke-width="1.4" stroke-linecap="round" stroke-linejoin="round"/>
<path d="M843 273 L851 266" fill="none" stroke="#151515" stroke-width="1.4" stroke-linecap="round" stroke-linejoin="round"/>
<path d="M866 282 L878 275" fill="none" stroke="#151515" stroke-width="1.4" stroke-linecap="round" stroke-linejoin="round"/>
<path d="M916 310.4 L951 310.4" fill="none" stroke="#151515" stroke-width="1.2" stroke-linecap="round" stroke-linejoin="round"/>
<path d="M553.5 826.5 L554.5 831" stroke="#777" stroke-width="1.3"/>
</svg></body></html>
